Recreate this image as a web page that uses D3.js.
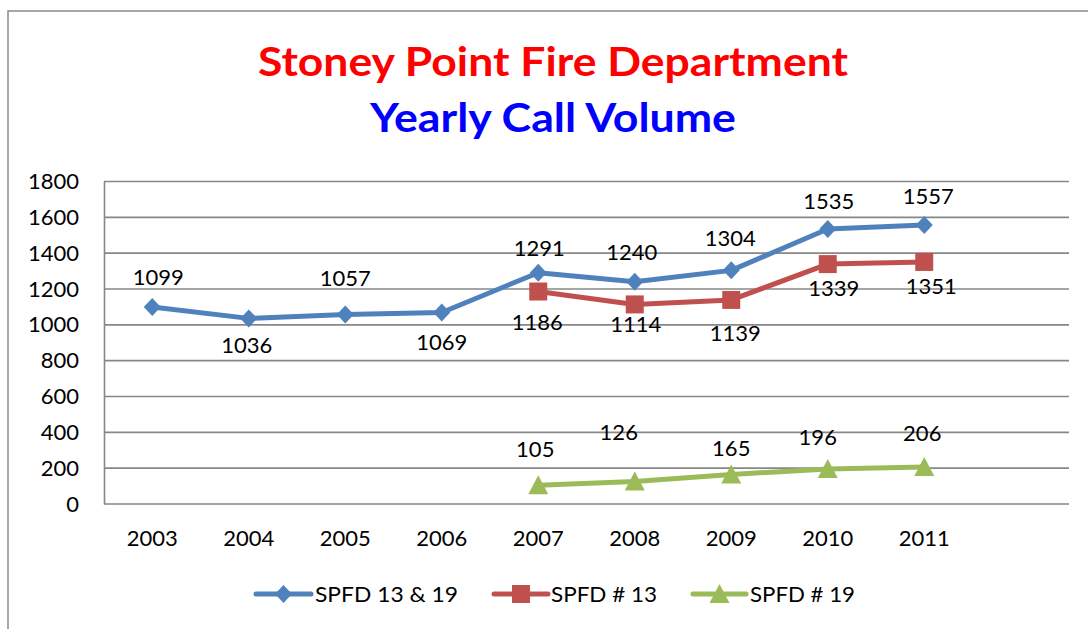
<!DOCTYPE html>
<html>
<head>
<meta charset="utf-8">
<script src="https://cdn.jsdelivr.net/npm/d3@7"></script>
<style>
  html, body { margin: 0; padding: 0; background: #fff; }
  svg { display: block; }
  text { font-family: Lato, "Open Sans", sans-serif; }
</style>
</head>
<body>
<svg id="chart" width="1088" height="629"></svg>
<script>
// ---- data ----
const categories = ["2003", "2004", "2005", "2006", "2007", "2008", "2009", "2010", "2011", ""];
const yTicks = [0, 200, 400, 600, 800, 1000, 1200, 1400, 1600, 1800];
const seriesNames = ["SPFD 13 & 19", "SPFD # 13", "SPFD # 19"];
const spfdTotal = [1099, 1036, 1057, 1069, 1291, 1240, 1304, 1535, 1557];
const spfd13 = [null, null, null, null, 1186, 1114, 1139, 1339, 1351];
const spfd19 = [null, null, null, null, 105, 126, 165, 196, 206];
const titleLine1 = "Stoney Point Fire Department";
const titleLine2 = "Yearly Call Volume";

// ---- label nudges (styling: label centre relative to its point) ----
const labelNudgeTotal = [[6,-30],[-2,27],[0,-37],[0,30],[1,-25],[-3,-30],[-1,-32],[1,-28],[4,-29]];
const labelNudge13 = [null,null,null,null,[-1,30],[1,20],[4,33],[6,24],[7,24]];
const labelNudge19 = [null,null,null,null,[-3,-36],[-16,-49],[0,-26],[-10,-32],[-2,-34.5]];

const colors = ["#4F81BD", "#C0504D", "#9BBB59"];
const markers = ["diamond", "square", "triangle"];

const svg = d3.select("#chart");
const plot = { left: 104, right: 1069, top: 181.5, bottom: 504 };

// outer frame
svg.append("rect")
  .attr("x", 8).attr("y", 11).attr("width", 1200).attr("height", 800)
  .attr("fill", "none").attr("stroke", "#8a8a8a").attr("stroke-width", 1.5);

// titles
function fitText(sel, width) {
  sel.attr("textLength", width).attr("lengthAdjust", "spacingAndGlyphs");
}
svg.append("text").attr("x", 553).attr("y", 76).attr("text-anchor", "middle")
  .attr("font-size", 40).attr("font-weight", "bold").attr("fill", "#FF0000")
  .text(titleLine1).call(fitText, 590);
svg.append("text").attr("x", 553).attr("y", 132).attr("text-anchor", "middle")
  .attr("font-size", 40).attr("font-weight", "bold").attr("fill", "#0000FF")
  .text(titleLine2).call(fitText, 366);

// scales
const x = d3.scaleBand().domain(categories).range([plot.left, plot.right]).padding(0);
const y = d3.scaleLinear().domain([0, 1800]).range([plot.bottom, plot.top]);
const cx = c => x(c) + x.bandwidth() / 2;

// gridlines
svg.append("g").selectAll("line").data(yTicks).join("line")
  .attr("x1", plot.left).attr("x2", plot.right)
  .attr("y1", d => y(d)).attr("y2", d => y(d))
  .attr("stroke", "#878787").attr("stroke-width", 1.6);

// y axis
const yAxis = d3.axisLeft(y).tickValues(yTicks).tickFormat(d3.format("d")).tickSize(0).tickPadding(25);
const gy = svg.append("g").attr("transform", `translate(${plot.left},0)`).call(yAxis);
gy.select(".domain").attr("stroke", "#878787").attr("stroke-width", 1.6);
gy.selectAll("text").attr("font-size", 22).attr("fill", "#000")
  .attr("font-family", "Lato, 'Open Sans', sans-serif");

// x axis
const xAxis = d3.axisBottom(x).tickSize(0).tickPadding(26);
const gx = svg.append("g").attr("transform", `translate(0,${plot.bottom})`).call(xAxis);
gx.select(".domain").remove();
gx.selectAll("text").attr("font-size", 22).attr("fill", "#000")
  .attr("font-family", "Lato, 'Open Sans', sans-serif");

// marker paths
function markerPath(kind) {
  if (kind === "diamond") return "M0,-9L8.5,0L0,9L-8.5,0Z";
  if (kind === "square") return "M-9,-9H9V9H-9Z";
  return "M0,-10L10,9L-10,9Z";
}

const seriesData = [spfdTotal, spfd13, spfd19];
const nudges = [labelNudgeTotal, labelNudge13, labelNudge19];

seriesData.forEach((vals, si) => {
  const pts = vals.map((v, i) => ({ cat: categories[i], v, nudge: nudges[si][i] }))
                  .filter(d => d.v !== null);
  const line = d3.line().x(d => cx(d.cat)).y(d => y(d.v));
  svg.append("path").datum(pts).attr("d", line)
    .attr("fill", "none").attr("stroke", colors[si]).attr("stroke-width", 5)
    .attr("stroke-linejoin", "round").attr("stroke-linecap", "round");
  svg.append("g").selectAll("path").data(pts).join("path")
    .attr("d", markerPath(markers[si]))
    .attr("transform", d => `translate(${cx(d.cat)},${y(d.v)})`)
    .attr("fill", colors[si]);
  svg.append("g").selectAll("text").data(pts).join("text")
    .attr("x", d => cx(d.cat) + d.nudge[0])
    .attr("y", d => y(d.v) + d.nudge[1] + 8)
    .attr("text-anchor", "middle").attr("font-size", 22).attr("fill", "#000")
    .text(d => d.v);
});

// legend
const legendItems = [
  { x0: 256, x1: 311, text: 315, tw: 143 },
  { x0: 494, x1: 548, text: 551, tw: 106 },
  { x0: 693, x1: 746, text: 750, tw: 105 }
];
const ly = 594;
legendItems.forEach((it, i) => {
  const g = svg.append("g");
  g.append("line").attr("x1", it.x0).attr("x2", it.x1).attr("y1", ly).attr("y2", ly)
    .attr("stroke", colors[i]).attr("stroke-width", 5).attr("stroke-linecap", "round");
  g.append("path").attr("d", markerPath(markers[i]))
    .attr("transform", `translate(${(it.x0 + it.x1) / 2},${ly})`).attr("fill", colors[i]);
  g.append("text").attr("x", it.text).attr("y", ly + 8).attr("font-size", 22).attr("fill", "#000")
    .text(seriesNames[i]).call(fitText, it.tw);
});
</script>
</body>
</html>
